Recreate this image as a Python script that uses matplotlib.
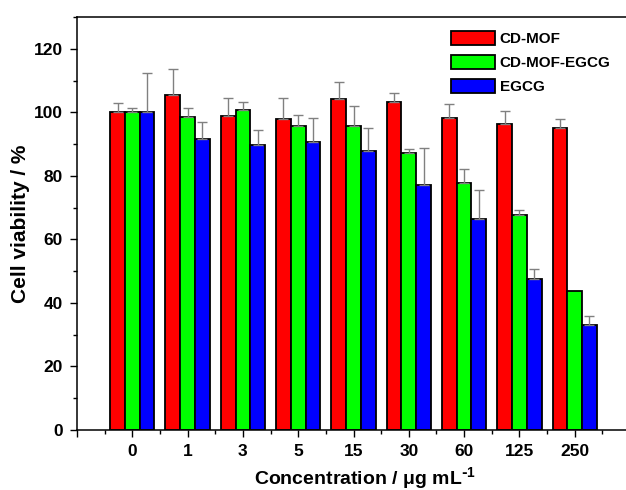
import matplotlib
matplotlib.use('Agg')
import matplotlib.pyplot as plt
import numpy as np
from matplotlib.ticker import FixedLocator, MultipleLocator

plt.rcParams['font.family'] = ['Liberation Sans', 'DejaVu Sans']
plt.rcParams['font.weight'] = 'bold'
plt.rcParams['mathtext.default'] = 'regular'

# data
concentrations = ['0', '1', '3', '5', '15', '30', '60', '125', '250']
series_names = ['CD-MOF', 'CD-MOF-EGCG', 'EGCG']
cdmof = [100.0, 105.5, 98.8, 97.9, 104.2, 103.1, 98.3, 96.4, 95.1]
cdmof_err = [2.8, 8.0, 5.8, 6.7, 5.2, 3.1, 4.4, 4.1, 2.7]
cdmof_egcg = [100.0, 98.5, 100.7, 95.6, 95.6, 87.2, 77.6, 67.7, 43.8]
cdmof_egcg_err = [1.5, 2.9, 2.5, 3.7, 6.4, 1.3, 4.4, 1.6, 0.0]
egcg = [100.0, 91.7, 89.8, 90.6, 87.7, 77.0, 66.5, 47.6, 32.9]
egcg_err = [12.4, 5.1, 4.7, 7.5, 7.3, 11.9, 9.0, 3.2, 3.1]

colors = ['#ff0000', '#00ff00', '#0000ff']

fig = plt.figure(figsize=(6.26, 4.9), dpi=100)
# right edge of the frame falls just outside the picture, like the original
ax = fig.add_axes([77/626, 60/490, 553/626, 413/490])

x = np.arange(1, len(concentrations) + 1)
w = 0.8 / 3

all_vals = [cdmof, cdmof_egcg, egcg]
all_errs = [cdmof_err, cdmof_egcg_err, egcg_err]
for k in range(3):
    pos = x + (k - 1) * w
    vals = np.array(all_vals[k])
    errs = np.array(all_errs[k])
    ax.bar(pos, vals, w, color=colors[k], edgecolor='black', linewidth=1.3,
           label=series_names[k], zorder=2)
    m = errs > 0
    ax.errorbar(pos[m], vals[m], yerr=[np.zeros(m.sum()), errs[m]], fmt='none',
                ecolor='#808080', elinewidth=1.0, capsize=3.5, capthick=1.0, zorder=3)

ax.set_xlim(0, 10)
ax.set_ylim(0, 130)

ax.xaxis.set_major_locator(FixedLocator(np.arange(0, 11)))
ax.set_xticklabels([''] + concentrations + [''])
ax.xaxis.set_minor_locator(FixedLocator(np.arange(0.5, 10, 1)))
ax.set_yticks([0, 20, 40, 60, 80, 100, 120])
ax.yaxis.set_minor_locator(MultipleLocator(10))

ax.tick_params(which='major', direction='out', length=5, width=1, labelsize=12.5, pad=5)
ax.tick_params(which='minor', direction='out', length=3, width=1)
ax.tick_params(axis='x', which='both', top=False)
ax.tick_params(axis='y', which='both', right=False)
for s in ax.spines.values():
    s.set_linewidth(1.1)

ax.set_ylabel('Cell viability / %', fontsize=15, fontweight='bold', labelpad=3)
ax.set_xlabel(r'Concentration / μg mL$^{\text{-}1}$', fontsize=14, fontweight='bold', labelpad=3)
ax.xaxis.set_label_coords(0.521, -0.085)

ax.legend(loc='upper right', bbox_to_anchor=(0.99, 1.0), frameon=False, fontsize=11,
          handlelength=2.9, handleheight=1.1, handletextpad=0.3, labelspacing=0.55)

plt.savefig('out.png', dpi=100)
